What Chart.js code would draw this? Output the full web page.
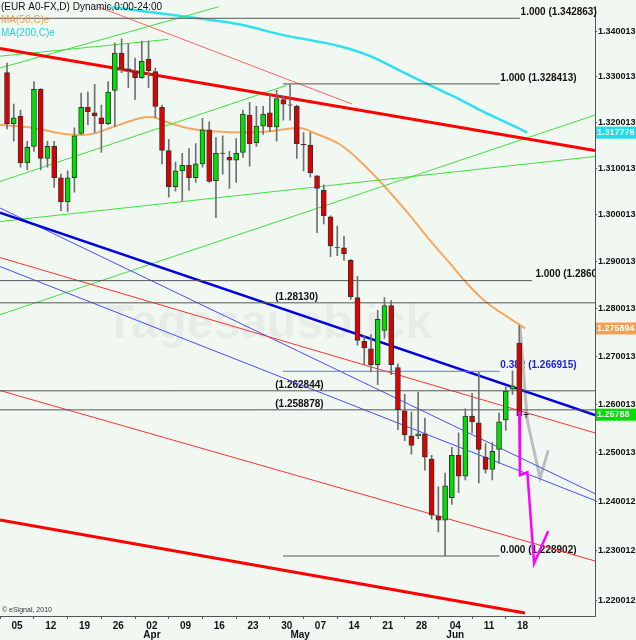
<!DOCTYPE html>
<html>
<head>
<meta charset="utf-8">
<script src="https://cdn.jsdelivr.net/npm/chart.js@4.4.0/dist/chart.umd.min.js"></script>
<style>
  html, body { margin: 0; padding: 0; background: #f1f8f1; }
  canvas { display: block; }
</style>
</head>
<body>
<canvas id="chart" width="636" height="640"></canvas>
<script>
// daily EUR/USD candles, 04 Mar - 18 Jun 2010 (index 0..77)
const opens = [1.3309,1.3197,1.3214,1.3112,1.3148,1.3272,1.3122,1.3148,1.3080,1.3028,
  1.3080,1.3176,1.3233,1.3221,1.3210,1.3197,1.3270,1.3352,1.3317,1.3311,
  1.3298,1.3338,1.3311,1.3233,1.3139,1.3061,1.3095,1.3107,1.3080,1.3110,
  1.3184,1.3074,1.3133,1.3124,1.3118,1.3135,1.3216,1.3156,1.3192,1.3221,
  1.3190,1.3250,1.3238,1.3235,1.3152,1.3150,1.3084,1.3053,1.2996,1.2930,
  1.2930,1.2903,1.2824,1.2732,1.2716,1.2683,1.2755,1.2807,1.2677,1.2587,
  1.2535,1.2535,1.2539,1.2487,1.2370,1.2362,1.2408,1.2495,1.2452,1.2576,
  1.2562,1.2491,1.2466,1.2507,1.2568,1.2632,1.2728,1.2579];
const highs = [1.3330,1.3240,1.3227,1.3159,1.3289,1.3274,1.3159,1.3159,1.3088,1.3095,
  1.3188,1.3264,1.3266,1.3283,1.3238,1.3289,1.3374,1.3383,1.3372,1.3341,
  1.3378,1.3378,1.3319,1.3238,1.3163,1.3114,1.3133,1.3143,1.3154,1.3209,
  1.3201,1.3167,1.3171,1.3137,1.3165,1.3227,1.3244,1.3235,1.3235,1.3261,
  1.3270,1.3257,1.3283,1.3238,1.3178,1.3178,1.3085,1.3065,1.2998,1.2976,
  1.2955,1.2905,1.2869,1.2744,1.2746,1.2797,1.2824,1.2818,1.2685,1.2621,
  1.2584,1.2626,1.2572,1.2495,1.2430,1.2458,1.2511,1.2541,1.2591,1.2623,
  1.2668,1.2519,1.2521,1.2582,1.2636,1.2670,1.2765,1.2584];
const lows = [1.3186,1.3159,1.3103,1.3097,1.3137,1.3097,1.3103,1.3059,1.3009,1.3007,
  1.3049,1.3174,1.3195,1.3178,1.3135,1.3195,1.3191,1.3309,1.3276,1.3250,
  1.3296,1.3276,1.3211,1.3110,1.3038,1.3051,1.3030,1.3053,1.3070,1.3103,
  1.3070,1.2994,1.3088,1.3057,1.3070,1.3124,1.3105,1.3148,1.3174,1.3180,
  1.3159,1.3205,1.3205,1.3122,1.3095,1.3082,1.2962,1.2981,1.2911,1.2913,
  1.2903,1.2820,1.2724,1.2683,1.2668,1.2641,1.2738,1.2662,1.2548,1.2525,
  1.2497,1.2529,1.2464,1.2364,1.2338,1.2289,1.2394,1.2418,1.2444,1.2541,
  1.2438,1.2458,1.2444,1.2478,1.2546,1.2621,1.2560,1.2572];
const closes = [1.3197,1.3210,1.3112,1.3146,1.3272,1.3122,1.3148,1.3080,1.3028,1.3080,
  1.3171,1.3233,1.3223,1.3214,1.3197,1.3266,1.3352,1.3317,1.3313,1.3298,
  1.3334,1.3313,1.3235,1.3139,1.3061,1.3095,1.3107,1.3080,1.3110,1.3184,
  1.3072,1.3133,1.3132,1.3118,1.3133,1.3218,1.3154,1.3192,1.3218,1.3190,
  1.3252,1.3240,1.3237,1.3154,1.3151,1.3091,1.3057,1.2998,1.2934,1.2929,
  1.2917,1.2826,1.2734,1.2718,1.2683,1.2778,1.2807,1.2683,1.2589,1.2537,
  1.2515,1.2539,1.2491,1.2372,1.2362,1.2432,1.2495,1.2452,1.2576,1.2564,
  1.2507,1.2466,1.2503,1.2564,1.2628,1.2639,1.2576,1.2579];

// moving averages: [index, price]
const ma50 = [[-1.04,1.3195],[3.86,1.3188],[8.9,1.3174],[12.3,1.3174],[15.3,1.3188],[19.7,1.3209],
  [21.7,1.3211],[23.7,1.3201],[26.7,1.3188],[31.2,1.3180],[35.0,1.3178],[38.6,1.3180],[43.5,1.3188],
  [45.4,1.3178],[49.4,1.3152],[52.8,1.3110],[55.8,1.3065],[59.3,1.3007],[62.8,1.2945],[65.7,1.2897],
  [68.2,1.2855],[71.2,1.2813],[74.2,1.2784],[76.9,1.2759]];
const ma200 = [[14.8,1.3455],[28.6,1.3428],[34.6,1.3415],[40.5,1.3393],[49.4,1.3367],[53.9,1.3345],
  [58.3,1.3313],[62.8,1.3281],[66.5,1.3255],[70.2,1.3227],[73.9,1.3201],[77.2,1.3178]];

// trend lines: [x0, p0, x1, p1, colour, width]
const trendLines = [
  [-1.04,1.3362, 87.24,1.3139, '#ff0000', 3],
  [13.35,1.3455, 51.19,1.3240, '#ff6060', 1],
  [-1.04,1.2909, 87.24,1.2541, '#ff3030', 1],
  [-1.04,1.2629, 87.24,1.2279, '#ff3030', 1],
  [-1.04,1.2362, 76.85,1.2174, '#ff0000', 3],
  [-1.04,1.3005, 87.24,1.2578, '#0000e0', 2.5],
  [-1.04,1.3015, 87.24,1.2416, '#4a4aff', 1],
  [-1.04,1.2890, 87.24,1.2402, '#4a4aff', 1],
  [-1.04,1.3319, 31.6,1.3455, '#40e040', 1],
  [-1.04,1.3345, 23.9,1.3382, '#40e040', 1],
  [-1.04,1.3072, 41.5,1.3281, '#40e040', 1],
  [-1.04,1.2986, 87.24,1.3126, '#40e040', 1],
  [-1.04,1.2788, 87.24,1.3216, '#40e040', 1]
];
// fibonacci / level lines: [x0, x1, price, colour]
const levels = [
  [-1.04, 76.1, 1.342863, '#555'],
  [40.95, 73.1, 1.328413, '#555'],
  [-1.04, 77.9, 1.286000, '#555'],
  [-1.04, 87.24, 1.281300, '#555'],
  [40.95, 73.1, 1.266915, '#6a6aff'],
  [-1.04, 87.24, 1.262844, '#555'],
  [-1.04, 87.24, 1.258878, '#555'],
  [40.95, 73.1, 1.228902, '#555']
];
const levelTexts = [
  [73.2, 1.328413, '1.000 (1.328413)', '#111'],
  [78.4, 1.286000, '1.000 (1.28600', '#111'],
  [39.8, 1.281300, '(1.28130)', '#111'],
  [73.2, 1.266915, '0.382 (1.266915)', '#2020d0'],
  [39.8, 1.262844, '(1.262844)', '#111'],
  [39.8, 1.258878, '(1.258878)', '#111'],
  [73.2, 1.228902, '0.000 (1.228902)', '#111']
];
// projected paths
const projMagenta = [[76.0,1.2586],[76.1,1.2454],[77.2,1.2460],[78.2,1.2274],[80.3,1.2340]];
const projGray = [[76.1,1.2765],[77.2,1.2566],[79.1,1.2448],[80.3,1.2505]];

const weekTicks = [1.5,6.5,11.5,16.5,21.5,26.5,31.5,36.5,41.5,46.5,51.5,56.5,61.5,66.5,71.5,76.5];
const weekLabels = ['05','12','19','26','02','09','16','23','30','07','14','21','28','04','11','18'];
const months = [[21.5,'Apr'],[43.5,'May'],[66.5,'Jun']];
const yTicks = [1.340013,1.330013,1.320013,1.310013,1.300013,1.290013,1.280013,1.270013,
  1.260013,1.250013,1.240012,1.230012,1.220012];
const axisBoxes = [[1.317776,'1.317776','#20dcef'],[1.275894,'1.275894','#f5a050'],[1.25788,'1.25788','#00dd00']];

const wicks = [], bodies = [], bodyColors = [];
opens.forEach((o, i) => {
  const c = closes[i];
  wicks.push({x: i, y: [lows[i], highs[i]]});
  if (Math.abs(c - o) < 0.0002) {
    bodies.push({x: i, y: [o - 0.00004, o + 0.00004]});
    bodyColors.push('#000');
  } else {
    bodies.push({x: i, y: [Math.min(o, c), Math.max(o, c)]});
    bodyColors.push(c > o ? '#00e000' : '#e00000');
  }
});

const lineSet = (pts, color, width, extra) => Object.assign({
  type: 'line', data: pts.map(p => ({x: p[0], y: p[1]})), borderColor: color,
  borderWidth: width, pointRadius: 0, fill: false, tension: 0
}, extra || {});

const datasets = [];
levels.forEach(l => datasets.push(lineSet([[l[0], l[2]], [l[1], l[2]]], l[3], 1)));
trendLines.forEach(t => datasets.push(lineSet([[t[0], t[1]], [t[2], t[3]]], t[4], t[5])));
datasets.push(lineSet(ma200, '#30e0f0', 2.5, {tension: 0.4}));
datasets.push(lineSet(ma50, '#f5a860', 2, {tension: 0.4}));
datasets.push(lineSet(projGray, '#bdbdbd', 3));
datasets.push({type: 'bar', data: wicks, backgroundColor: '#707070', barThickness: 1, grouped: false, order: -1});
datasets.push({type: 'bar', data: bodies, backgroundColor: bodyColors, borderColor: '#333',
  borderWidth: 1, borderSkipped: false, barThickness: 5, grouped: false, order: -2});
datasets.push(lineSet(projMagenta, '#ff00ff', 2.5, {order: -3}));

const decor = {
  id: 'decor',
  beforeDatasetsDraw(chart) {
    const {ctx, chartArea: a, scales: {x, y}} = chart;
    ctx.save();
    ctx.font = 'bold 48px "Liberation Sans"';
    ctx.fillStyle = 'rgba(0,0,0,0.045)';
    ctx.fillText('Tagesausblick', 105, 338);
    ctx.font = 'bold 16px "Liberation Sans"';
    ctx.fillText('de', 365, 355);
    ctx.font = 'bold 10px "Liberation Sans"';
    ctx.textBaseline = 'bottom';
    ctx.fillStyle = '#111';
    ctx.fillText('1.000 (1.342863)', x.getPixelForValue(76.2), y.getPixelForValue(1.342863) - 1);
    ctx.beginPath();
    ctx.rect(a.left, a.top, a.right - a.left, a.bottom - a.top);
    ctx.clip();
    levelTexts.forEach(t => {
      ctx.fillStyle = t[3];
      ctx.fillText(t[2], x.getPixelForValue(t[0]), y.getPixelForValue(t[1]) - 1);
    });
    ctx.restore();
  },
  afterDraw(chart) {
    const {ctx, chartArea: a, scales: {x, y}} = chart;
    ctx.save();
    ctx.font = '10px "Liberation Sans"';
    ctx.textBaseline = 'middle';
    ctx.fillStyle = '#111';
    ctx.fillText('(EUR A0-FX,D) Dynamic,0:00-24:00', 1, 7);
    ctx.fillStyle = '#f0a050';
    ctx.fillText('MA(50,C)e', 1, 20);
    ctx.fillStyle = '#20d0e0';
    ctx.fillText('MA(200,C)e', 1, 33);
    ctx.font = '7px "Liberation Sans"';
    ctx.fillStyle = '#333';
    ctx.fillText('\u00a9 eSignal, 2010', 2, 610);
    ctx.font = 'bold 10px "Liberation Sans"';
    ctx.fillStyle = '#111';
    ctx.textAlign = 'center';
    months.forEach(m => ctx.fillText(m[1], x.getPixelForValue(m[0]), 635));
    ctx.textAlign = 'left';
    ctx.font = 'bold 9px "Liberation Sans"';
    axisBoxes.forEach(b => {
      const py = y.getPixelForValue(b[0]);
      ctx.fillStyle = b[2];
      ctx.fillRect(a.right + 1, py - 6, 40, 12);
      ctx.fillStyle = '#fff';
      ctx.fillText(b[1], a.right + 2, py);
    });
    ctx.restore();
  }
};

new Chart(document.getElementById('chart'), {
  type: 'bar',
  data: {datasets: datasets},
  options: {
    responsive: false,
    devicePixelRatio: 1,
    animation: false,
    layout: {padding: 0},
    plugins: {legend: {display: false}, tooltip: {enabled: false}},
    scales: {
      x: {
        type: 'linear', min: -1.04, max: 87.24, offset: false,
        afterBuildTicks: s => { s.ticks = weekTicks.map(v => ({value: v})); },
        afterFit: s => { s.height = 24; },
        ticks: {
          autoSkip: false, maxRotation: 0, padding: 1, color: '#111',
          font: {family: 'Liberation Sans', size: 10, weight: 'bold'},
          callback: v => weekLabels[weekTicks.indexOf(v)]
        },
        grid: {drawOnChartArea: false, tickLength: 3, color: '#555'},
        border: {color: '#555', width: 1}
      },
      y: {
        type: 'logarithmic', position: 'right', min: 1.2168, max: 1.3455,
        afterBuildTicks: s => { s.ticks = yTicks.map(v => ({value: v})); },
        afterFit: s => { s.width = 41; },
        ticks: {
          autoSkip: false, padding: 1, color: '#111',
          font: {family: 'Liberation Sans', size: 9, weight: 'bold'},
          callback: v => v.toFixed(6)
        },
        grid: {drawOnChartArea: false, tickLength: 2, color: '#555'},
        border: {color: '#555', width: 1}
      }
    }
  },
  plugins: [decor]
});
</script>
</body>
</html>
